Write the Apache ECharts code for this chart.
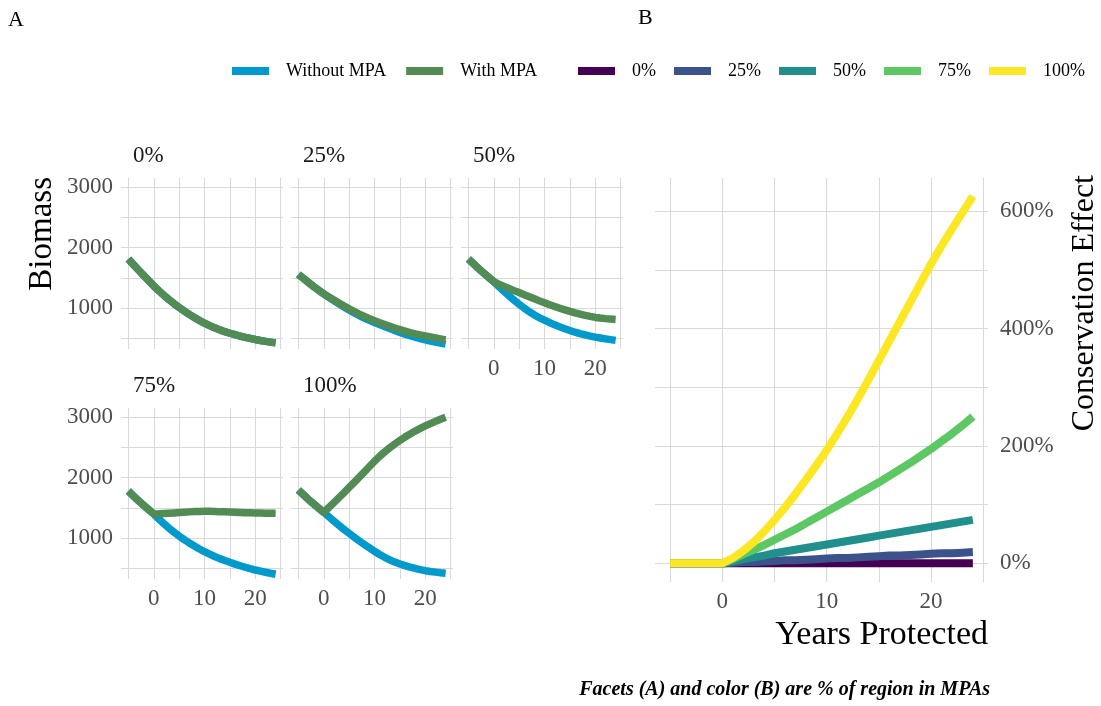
<!DOCTYPE html>
<html><head><meta charset="utf-8">
<script src="https://cdn.jsdelivr.net/npm/echarts@6/dist/echarts.min.js"></script>
<style>html,body{margin:0;padding:0;background:#fff}#c{width:1101px;height:706px}</style>
</head><body><div id="c"></div>
<script>
// ---------------- data ----------------
const years = [-5,-4,-3,-2,-1,0,1,2,3,4,5,6,7,8,9,10,11,12,13,14,15,16,17,18,19,20,21,22,23,24];
const facetLabels = ['0%','25%','50%','75%','100%'];

// Panel A: biomass by facet (% of region in MPAs)
const without0  = [1813,1722,1633,1545,1458,1370,1291,1216,1145,1078,1015,956,901,850,802,756,716,679,645,615,590,566,544,523,504,486,470,456,443,431];
const with0     = [1813,1722,1633,1545,1458,1370,1291,1216,1145,1078,1015,956,901,850,802,756,716,679,645,615,590,566,544,523,504,486,470,456,443,431];
const without25 = [1562,1493,1426,1361,1299,1239,1183,1128,1075,1023,973,926,882,841,803,768,733,699,666,634,604,576,550,525,502,481,462,444,427,410];
const with25    = [1562,1493,1426,1361,1299,1239,1187,1137,1088,1039,992,948,906,867,831,797,764,733,703,675,649,624,601,580,562,546,530,513,497,481];
const without50 = [1813,1735,1658,1584,1511,1440,1360,1282,1207,1136,1068,1004,945,892,845,805,766,729,695,663,634,607,583,562,543,526,511,497,484,472];
const with50    = [1813,1735,1658,1584,1511,1440,1400,1363,1327,1293,1260,1226,1192,1158,1124,1092,1061,1031,1003,976,950,927,905,885,867,851,840,831,824,818];
const without75 = [1780,1700,1622,1546,1473,1402,1320,1242,1169,1101,1038,979,924,873,825,780,739,701,666,634,605,576,549,524,500,478,459,441,424,409];
const with75    = [1780,1700,1622,1546,1473,1402,1405,1410,1415,1420,1425,1431,1437,1442,1445,1447,1446,1444,1441,1438,1435,1431,1427,1424,1421,1419,1417,1416,1415,1414];
const without100= [1797,1718,1642,1568,1497,1430,1356,1284,1214,1147,1082,1019,958,899,842,787,735,688,646,609,578,551,526,504,484,467,454,443,433,425];
const with100   = [1797,1718,1642,1568,1497,1430,1510,1590,1672,1755,1840,1925,2010,2096,2185,2272,2352,2426,2494,2557,2616,2671,2722,2769,2813,2854,2893,2930,2965,2998];

// Panel B: conservation effect (%)
const effect0   = [0,0,0,0,0,0,0,0,0,0,0,0,0,0,0,0,0,0,0,0,0,0,0,0,0,0,0,0,0,0];
const effect25  = [0,0,0,0,0,0,1,2,2,3,4,5,5,6,7,8,9,9,10,11,12,13,13,14,15,16,17,17,18,19];
const effect50  = [0,0,0,0,0,0,3,7,10,13,17,20,23,26,29,32,35,38,41,44,47,50,53,56,59,62,65,68,71,74];
const effect75  = [0,0,0,0,0,0,7,15,23,31,40,49,58,68,78,88,98,108,118,128,138,149,160,171,183,195,208,221,235,250];
const effect100 = [0,0,0,0,0,0,9,21,36,54,74,95,118,142,167,193,221,250,281,313,346,379,412,445,478,511,541,570,598,626];

// tick labels / grid values
const xTickLabels = [0,10,20];
const xGridValues = [-5,0,5,10,15,20,25];
const yTickLabelsA = [1000,2000,3000];
const yGridValuesA = [500,1000,1500,2000,2500,3000];
const yTickLabelsB = [0,200,400,600];
const yGridValuesB = [0,100,200,300,400,500,600];

// ---------------- chart ----------------
const FONT = "'Liberation Serif','DejaVu Serif',serif";
const BLUE = '#0099CC', GREEN = '#538B55';
const VIRIDIS = ['#440154','#3B528B','#21908C','#5DC863','#FDE725'];
const GRIDC = '#D9D9D9';

const withoutSets = [without0, without25, without50, without75, without100];
const withSets = [with0, with25, with50, with75, with100];
const effectSets = [effect0, effect25, effect50, effect75, effect100];

const facetPos = [
  {left:121, top:178}, {left:291, top:178}, {left:461, top:178},
  {left:121, top:408}, {left:291, top:408}
];
const showX = [false,false,true,true,true];
const showY = [true,false,false,true,false];

const zip = (xs, ys) => xs.map((x,i)=>[x, ys[i]]);

const grids = [], xAxes = [], yAxes = [], series = [], graphics = [];

function lineSeries(name, xi, data, color, width, z) {
  return {
    name, type:'line', xAxisIndex:xi, yAxisIndex:xi, data,
    showSymbol:false, symbol:'none',
    lineStyle:{color, width, cap:'butt', join:'round'}, itemStyle:{color}, z
  };
}

facetPos.forEach((p, i) => {
  grids.push({left:p.left, top:p.top, width:162, height:171, containLabel:false});
  xAxes.push({
    gridIndex:i, type:'value', min:-6.45, max:25.45,
    axisLine:{show:false}, axisTick:{show:false, customValues:xGridValues},
    splitLine:{show:true, lineStyle:{color:GRIDC, width:1}},
    axisLabel:{show:showX[i], customValues:xTickLabels, margin:8, color:'#4D4D4D', fontFamily:FONT, fontSize:23, formatter:v=>String(v)}
  });
  yAxes.push({
    gridIndex:i, type:'value', min:330, max:3150,
    axisLine:{show:false}, axisTick:{show:false, customValues:yGridValuesA},
    splitLine:{show:true, lineStyle:{color:GRIDC, width:1}},
    axisLabel:{show:showY[i], customValues:yTickLabelsA, margin:8, color:'#4D4D4D', fontFamily:FONT, fontSize:23, formatter:v=>String(v)}
  });
  series.push(lineSeries('Without MPA', i, zip(years, withoutSets[i]), BLUE, 7.5, 2));
  series.push(lineSeries('With MPA', i, zip(years, withSets[i]), GREEN, 7.5, 3));
  graphics.push({type:'text', x:p.left+12, y:p.top-22, style:{text:facetLabels[i], fill:'#1a1a1a', font:"23px "+FONT, textVerticalAlign:'middle'}});
});

// Panel B
grids.push({left:655, top:178, width:333, height:404});
xAxes.push({
  gridIndex:5, type:'value', min:-6.45, max:25.45,
  axisLine:{show:false}, axisTick:{show:false, customValues:xGridValues},
  splitLine:{show:true, lineStyle:{color:GRIDC, width:1}},
  axisLabel:{show:true, customValues:xTickLabels, margin:8, color:'#4D4D4D', fontFamily:FONT, fontSize:23, formatter:v=>String(v)}
});
yAxes.push({
  gridIndex:5, type:'value', position:'right', min:-32, max:657,
  axisLine:{show:false}, axisTick:{show:false, customValues:yGridValuesB},
  splitLine:{show:true, lineStyle:{color:GRIDC, width:1}},
  axisLabel:{show:true, customValues:yTickLabelsB, margin:12, color:'#4D4D4D', fontFamily:FONT, fontSize:23, formatter:v=>v+'%'}
});
facetLabels.forEach((lab, k) => {
  series.push(lineSeries(lab, 5, zip(years, effectSets[k]), VIRIDIS[k], 8, 2+k));
});

// texts
graphics.push(
  {type:'text', x:8, y:20, style:{text:'A', fill:'#000', font:"22px "+FONT, textVerticalAlign:'middle'}},
  {type:'text', x:638, y:18, style:{text:'B', fill:'#000', font:"22px "+FONT, textVerticalAlign:'middle'}},
  {type:'text', x:42, y:177, rotation:Math.PI/2, style:{text:'Biomass', fill:'#000', font:"33px "+FONT, textAlign:'right', textVerticalAlign:'middle'}},
  {type:'text', x:1085, y:175, rotation:Math.PI/2, style:{text:'Conservation Effect', fill:'#000', font:"32px "+FONT, textAlign:'right', textVerticalAlign:'middle'}},
  {type:'text', x:988, y:635, style:{text:'Years Protected', fill:'#000', font:"34px "+FONT, textAlign:'right', textVerticalAlign:'middle'}},
  {type:'text', x:990, y:690, style:{text:'Facets (A) and color (B) are % of region in MPAs', fill:'#000', font:"italic bold 20px "+FONT, textAlign:'right', textVerticalAlign:'middle'}}
);

const legendCommon = {
  icon:'rect', itemWidth:37, itemHeight:8, selectedMode:false, orient:'horizontal',
  textStyle:{fontFamily:FONT, fontSize:18, color:'#000', padding:[0,0,0,12]}
};
const option = {
  animation:false,
  backgroundColor:'#fff',
  legend:[
    Object.assign({}, legendCommon, {data:['Without MPA','With MPA'], left:227, top:57, itemGap:20}),
    Object.assign({}, legendCommon, {data:facetLabels, left:573, top:57, itemGap:18})
  ],
  grid:grids, xAxis:xAxes, yAxis:yAxes, series:series, graphic:graphics
};
const chart = echarts.init(document.getElementById('c'), null, {renderer:'canvas'});
chart.setOption(option);
</script></body></html>
